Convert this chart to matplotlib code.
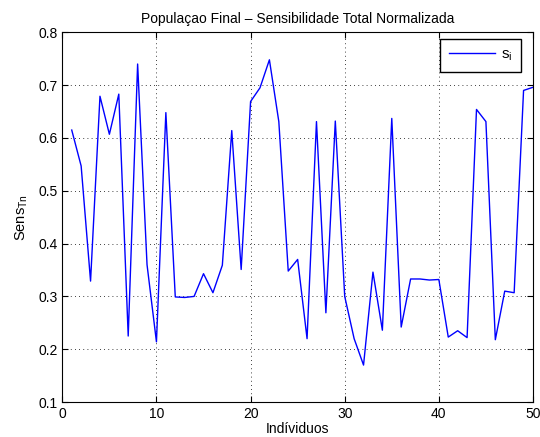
import matplotlib
matplotlib.use("Agg")
import matplotlib.pyplot as plt

plt.rcParams['font.family'] = ['Liberation Sans', 'DejaVu Sans']

individuos = list(range(1, 51))
sens = [0.615, 0.547, 0.329, 0.679, 0.607, 0.683, 0.225, 0.740, 0.360, 0.214,
        0.648, 0.299, 0.298, 0.300, 0.343, 0.307, 0.359, 0.614, 0.351, 0.669,
        0.695, 0.748, 0.631, 0.348, 0.370, 0.220, 0.631, 0.269, 0.632, 0.300,
        0.220, 0.170, 0.346, 0.236, 0.637, 0.242, 0.333, 0.333, 0.331, 0.332,
        0.223, 0.235, 0.222, 0.654, 0.631, 0.218, 0.310, 0.307, 0.690, 0.696]

fig = plt.figure(figsize=(5.4, 4.37), dpi=100)
ax = fig.add_axes([0.1154, 0.080, 0.8716, 0.846])
ax.plot(individuos, sens, color='#0000ff', linewidth=1.0, label=r'$\mathregular{s_i}$')
ax.set_xlim(0, 50)
ax.set_ylim(0.1, 0.8)
ax.set_xticks([0, 10, 20, 30, 40, 50])
ax.set_yticks([0.1, 0.2, 0.3, 0.4, 0.5, 0.6, 0.7, 0.8])
ax.tick_params(direction='in', length=4, labelsize=10, top=True, right=True)
ax.grid(True, linestyle=(0, (1, 4)), color='black', linewidth=0.6)
for s in ax.spines.values():
    s.set_linewidth(0.8)
ax.set_title('Populaçao Final – Sensibilidade Total Normalizada', fontsize=10, pad=7)
ax.set_xlabel('Indíviduos', fontsize=10, labelpad=1)
ax.set_ylabel(r'$\mathregular{Sens_{Tn}}$', fontsize=10.5, labelpad=6)
leg = ax.legend(loc='upper right', bbox_to_anchor=(0.974, 0.981), borderaxespad=0,
                fancybox=False, edgecolor='black', framealpha=1,
                fontsize=11, handlelength=3.0, handletextpad=0.4, borderpad=0.55)
leg.get_frame().set_linewidth(1.0)
fig.savefig('out.png', dpi=100)
